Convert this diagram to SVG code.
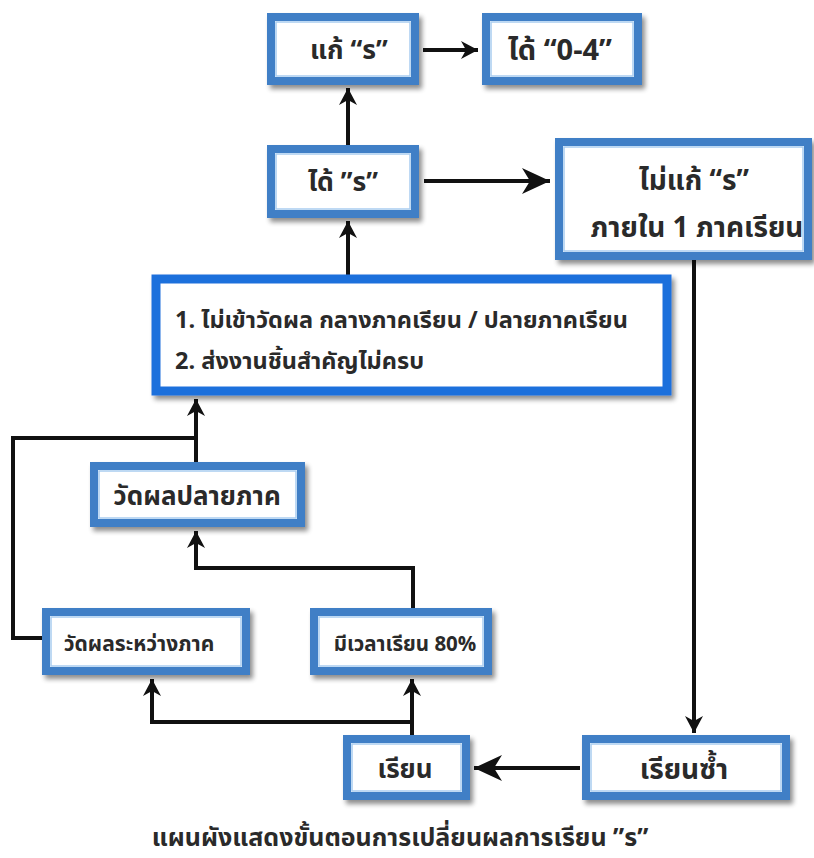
<svg xmlns="http://www.w3.org/2000/svg" width="814" height="858" viewBox="0 0 814 858">
<defs>
<filter id="sh" x="-10%" y="-20%" width="130%" height="150%">
<feGaussianBlur in="SourceAlpha" stdDeviation="2.5"/>
<feOffset dx="3" dy="4" result="b"/>
<feComponentTransfer><feFuncA type="linear" slope="0.45"/></feComponentTransfer>
<feMerge><feMergeNode/><feMergeNode in="SourceGraphic"/></feMerge>
</filter>
<marker id="ah" markerUnits="userSpaceOnUse" markerWidth="20" markerHeight="20" viewBox="-18 -10 20 20" refX="0" refY="0" orient="auto">
<path d="M0,0 L-17,-9 L-12,0 L-17,9 Z" fill="#111"/>
</marker>
<marker id="ahb" markerUnits="userSpaceOnUse" markerWidth="32" markerHeight="30" viewBox="-30 -14 32 28" refX="0" refY="0" orient="auto">
<path d="M0,0 L-28,-13 L-20,0 L-28,13 Z" fill="#111"/>
</marker>
<style>
.box{fill:#fff;stroke:#3f7fc6;stroke-width:8;filter:url(#sh)}
.inner{fill:none;stroke:#a9cdf0;stroke-width:1.5}
.main{fill:#fff;stroke:#1f6fdc;stroke-width:9;filter:url(#sh)}
.t{font-family:"Noto Sans Thai","Tahoma","Leelawadee UI","Loma","Garuda","DejaVu Sans",sans-serif;font-weight:bold;fill:#2a2a2a}
.c{stroke:#111;stroke-width:4;fill:none}
</style>
</defs>
<rect width="814" height="858" fill="#fff"/>

<g id="connectors">
<path class="c" d="M423,50 L478,50" marker-end="url(#ah)"/>
<path class="c" d="M348,145 L348,88" marker-end="url(#ah)"/>
<path class="c" d="M424,181 L550,181" marker-end="url(#ahb)"/>
<path class="c" d="M348,275 L348,221" marker-end="url(#ah)"/>
<path class="c" d="M694,260 L694,733" marker-end="url(#ah)"/>
<path class="c" d="M580,768 L474,768" marker-end="url(#ahb)"/>
<path class="c" d="M196,462 L196,399" marker-end="url(#ah)"/>
<path class="c" d="M42,638 L13,638 L13,438 L196,438"/>
<path class="c" d="M413,608 L413,568 L196,568 L196,531" marker-end="url(#ah)"/>
<path class="c" d="M412,735 L412,679" marker-end="url(#ah)"/>
<path class="c" d="M412,722 L152,722 L152,679" marker-end="url(#ah)"/>
</g>

<g id="n_fix">
<rect class="box" x="271" y="17" width="144" height="64"/>
<rect class="inner" x="276" y="22" width="134" height="54"/>
<text class="t" x="349" y="59" font-size="26.5" text-anchor="middle">แก้ “ร”</text>
</g>
<g id="n_get04">
<rect class="box" x="486" y="17" width="152" height="64"/>
<rect class="inner" x="491" y="22" width="142" height="54"/>
<text class="t" x="560" y="60" font-size="29" text-anchor="middle">ได้ “0-4”</text>
</g>
<g id="n_getR">
<rect class="box" x="271" y="149" width="144" height="65"/>
<rect class="inner" x="276" y="154" width="134" height="55"/>
<text class="t" x="343" y="191" font-size="26.5" text-anchor="middle">ได้ ”ร”</text>
</g>
<g id="n_nofix">
<rect class="box" x="559" y="142" width="249" height="114"/>
<rect class="inner" x="564" y="147" width="239" height="104"/>
<text class="t" x="694" y="190" font-size="28" text-anchor="middle">ไม่แก้ “ร”</text>
<text class="t" x="697" y="237" font-size="28" text-anchor="middle">ภายใน 1 ภาคเรียน</text>
</g>
<g id="n_cause">
<rect class="main" x="156" y="279" width="511" height="112"/>
<text class="t" x="175" y="328" font-size="23.5">1. ไม่เข้าวัดผล กลางภาคเรียน / ปลายภาคเรียน</text>
<text class="t" x="175" y="369" font-size="23.5">2. ส่งงานชิ้นสำคัญไม่ครบ</text>
</g>
<g id="n_final">
<rect class="box" x="94" y="466" width="207" height="57"/>
<rect class="inner" x="99" y="471" width="197" height="47"/>
<text class="t" x="197" y="505" font-size="26" text-anchor="middle">วัดผลปลายภาค</text>
</g>
<g id="n_midterm">
<rect class="box" x="46" y="612" width="200" height="59"/>
<rect class="inner" x="51" y="617" width="190" height="49"/>
<text class="t" x="139" y="651" font-size="21" text-anchor="middle">วัดผลระหว่างภาค</text>
</g>
<g id="n_time">
<rect class="box" x="314" y="612" width="174" height="59"/>
<rect class="inner" x="319" y="617" width="164" height="49"/>
<text class="t" x="405" y="651" font-size="20.5" text-anchor="middle">มีเวลาเรียน 80%</text>
</g>
<g id="n_learn">
<rect class="box" x="347" y="739" width="119" height="57"/>
<rect class="inner" x="352" y="744" width="109" height="47"/>
<text class="t" x="405" y="778" font-size="26" text-anchor="middle">เรียน</text>
</g>
<g id="n_repeat">
<rect class="box" x="586" y="739" width="200" height="57"/>
<rect class="inner" x="591" y="744" width="190" height="47"/>
<text class="t" x="684" y="779" font-size="28" text-anchor="middle">เรียนซ้ำ</text>
</g>

<g id="caption">
<text class="t" x="400" y="846" font-size="25" text-anchor="middle">แผนผังแสดงขั้นตอนการเปลี่ยนผลการเรียน ”ร”</text>
</g>
</svg>
